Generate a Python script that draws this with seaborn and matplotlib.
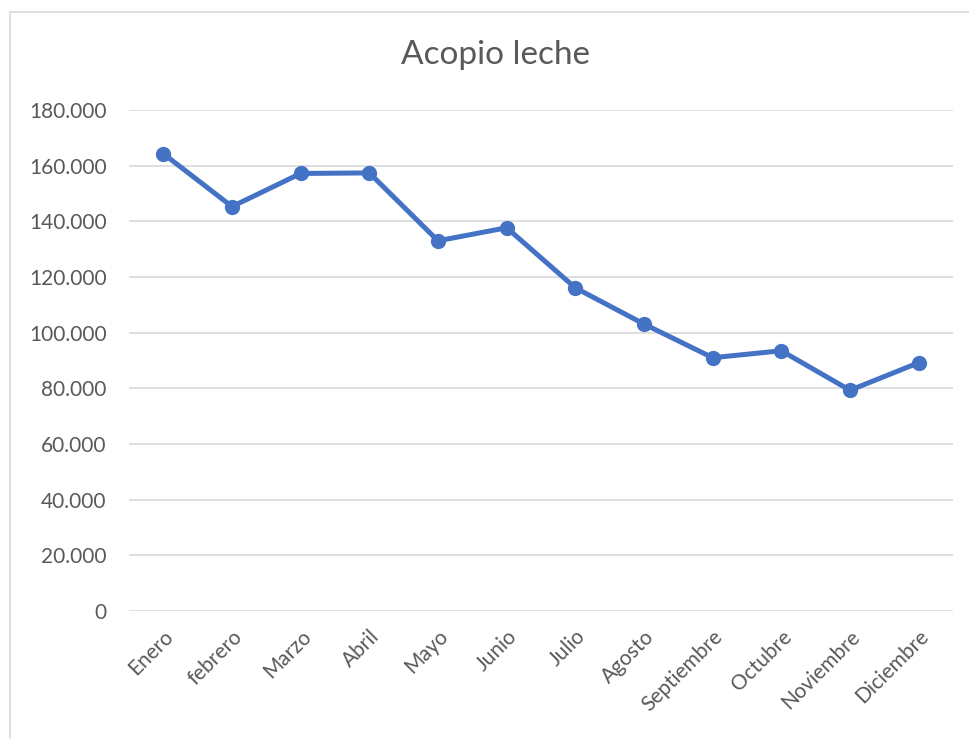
import matplotlib
matplotlib.use("Agg")
import matplotlib.pyplot as plt
from matplotlib.patches import Rectangle
from matplotlib.ticker import FuncFormatter, MultipleLocator
import seaborn as sns
import pandas as pd

months = ["Enero", "febrero", "Marzo", "Abril", "Mayo", "Junio", "Julio",
          "Agosto", "Septiembre", "Octubre", "Noviembre", "Diciembre"]
acopio = [164300, 145300, 157200, 157400, 133000, 137700, 116100,
          103100, 91000, 93500, 79300, 89200]

sns.set_theme(style="white")
plt.rcParams['font.family'] = ['Lato', 'DejaVu Sans']

fig = plt.figure(figsize=(9.70, 7.39), dpi=100)
ax = fig.add_axes([129/970, 1 - 611/739, (953 - 129)/970, (611 - 110)/739])

df = pd.DataFrame({"pos": range(len(months)), "mes": months, "valor": acopio})
sns.lineplot(data=df, x="pos", y="valor", ax=ax, color="#4472C4",
             linewidth=3.6, marker="o", markersize=11, markeredgewidth=0)

ax.set_xlim(-0.5, len(months) - 0.5)
ax.set_ylim(0, 180000)
ax.yaxis.set_major_locator(MultipleLocator(20000))
ax.yaxis.set_major_formatter(FuncFormatter(
    lambda v, p: "0" if v == 0 else f"{int(v):,}".replace(",", ".")))
ax.set_xticks(range(len(months)))
ax.set_xticklabels(months, rotation=45, ha="right", rotation_mode="anchor")
ax.grid(axis="y", color="#d9d9d9", linewidth=1.2)
ax.set_axisbelow(True)
for s in ax.spines.values():
    s.set_visible(False)
ax.tick_params(axis="both", length=0, colors="#595959", labelsize=15)
ax.tick_params(axis="y", pad=16)
ax.tick_params(axis="x", pad=11)
ax.set_xlabel("")
ax.set_ylabel("")

fig.text(0.511, 1 - 55/739, "Acopio leche", ha="center", va="center",
         fontsize=24, color="#595959")

fig.patches.append(Rectangle((10/970, -0.1), 1.2, 1.1 - 12/739,
                             transform=fig.transFigure, fill=False,
                             edgecolor="#d9d9d9", linewidth=1.2))

fig.savefig("out.png", dpi=100)
